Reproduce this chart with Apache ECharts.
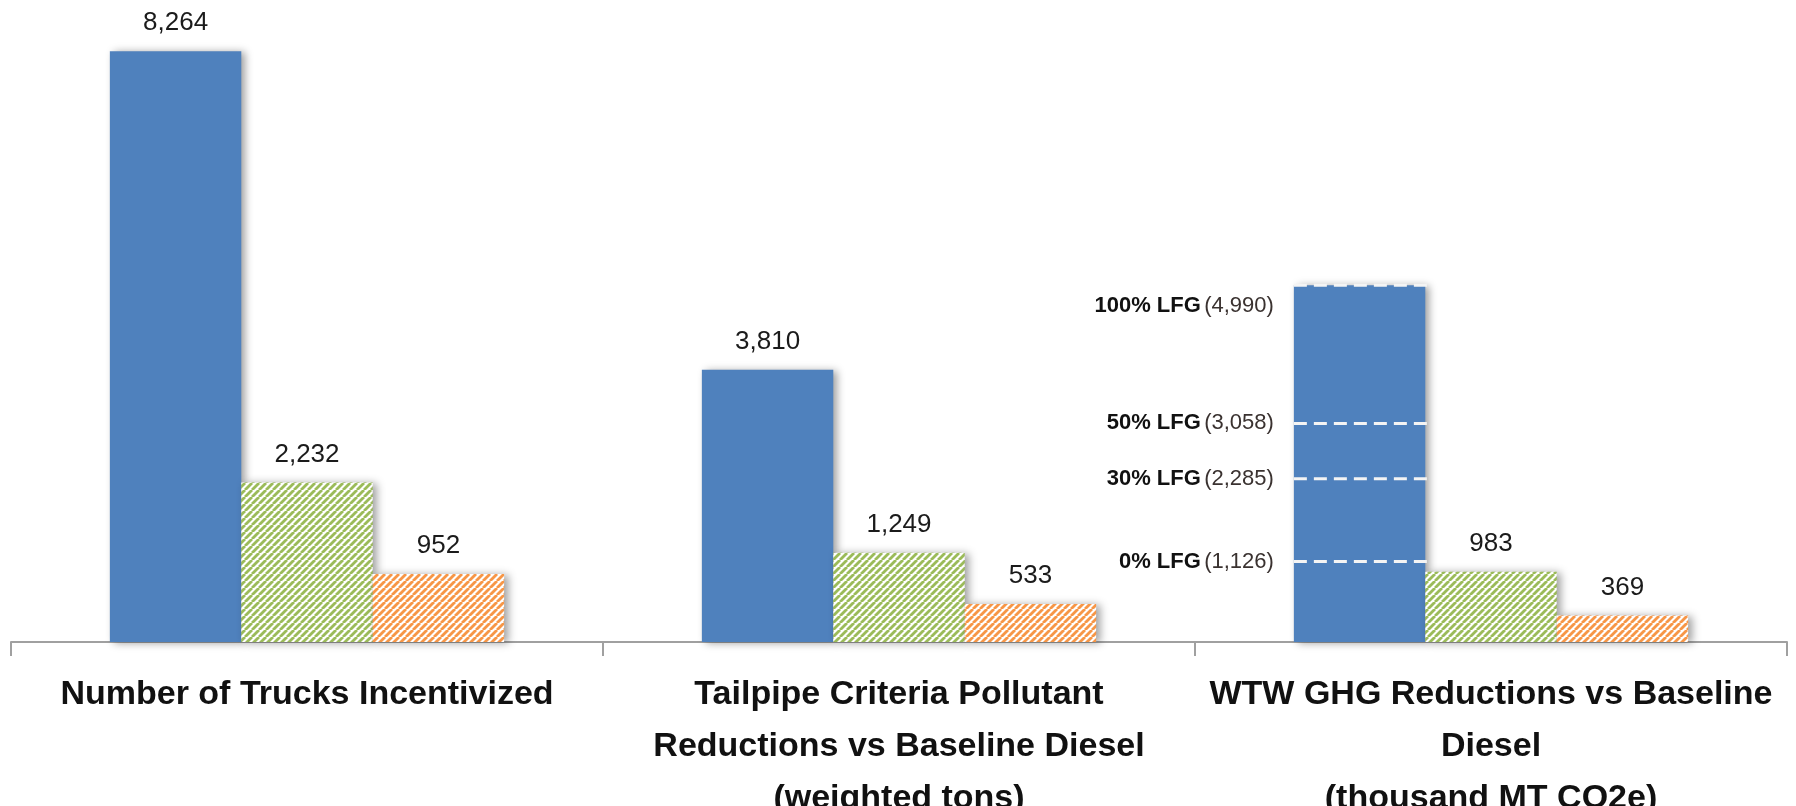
<!DOCTYPE html>
<html>
<head>
<meta charset="utf-8">
<script src="https://cdn.jsdelivr.net/npm/echarts@6/dist/echarts.min.js"></script>
<style>
  html, body { margin: 0; padding: 0; background: #ffffff; }
  #chart { width: 1796px; height: 806px; }
</style>
</head>
<body>
<div id="chart"></div>
<script>
// Program outcome categories (line breaks are part of the axis labels)
const categories = [
  'Number of Trucks Incentivized',
  'Tailpipe Criteria Pollutant\nReductions vs Baseline Diesel\n(weighted tons)',
  'WTW GHG Reductions vs Baseline\nDiesel\n(thousand MT CO2e)'
];

// Three scenario series per category
const blueValues = [8264, 3810, 4990];
const greenValues = [2232, 1249, 983];
const orangeValues = [952, 533, 369];

// Landfill-gas share levels marked inside the GHG bar
const lfgLevels = ['100% LFG', '50% LFG', '30% LFG', '0% LFG'];
const lfgValues = [4990, 3058, 2285, 1126];
const lfgCategory = 2;

const BAR_FRAC = 0.222;
const FONT = '"Liberation Sans", Arial, sans-serif';
const fmt = v => v.toLocaleString('en-US');

// Diagonal stripe tile for the hatched bars
function hatch(color) {
  const s = 7;
  const c = document.createElement('canvas');
  c.width = s; c.height = s;
  const g = c.getContext('2d');
  g.fillStyle = '#ffffff';
  g.fillRect(0, 0, s, s);
  g.strokeStyle = color;
  g.lineWidth = 2.8;
  for (const o of [-s, 0, s]) {
    g.beginPath();
    g.moveTo(o, s);
    g.lineTo(o + s, 0);
    g.stroke();
  }
  return { image: c, repeat: 'repeat' };
}

const shadow = {
  shadowColor: 'rgba(0,0,0,0.38)',
  shadowBlur: 8,
  shadowOffsetX: 4,
  shadowOffsetY: 1
};

const valueLabel = {
  show: true,
  position: 'top',
  distance: 15,
  fontFamily: FONT,
  fontSize: 26,
  color: '#1b1b1b',
  formatter: p => fmt(p.value)
};

const chart = echarts.init(document.getElementById('chart'), null, { renderer: 'canvas' });

chart.setOption({
  animation: false,
  backgroundColor: '#ffffff',
  grid: { left: 11, right: 9, top: 13, bottom: 164, containLabel: false, outerBoundsMode: 'none' },
  xAxis: {
    type: 'category',
    data: categories,
    axisLine: { lineStyle: { color: '#a0a0a0', width: 2 } },
    axisTick: { show: true, length: 14, lineStyle: { color: '#a0a0a0', width: 2 } },
    axisLabel: {
      interval: 0,
      margin: 27,
      fontFamily: FONT,
      fontSize: 34,
      fontWeight: 'bold',
      lineHeight: 52,
      color: '#111111'
    }
  },
  yAxis: {
    type: 'value',
    min: 0,
    max: 8800,
    show: false,
    splitLine: { show: false }
  },
  series: [
    {
      type: 'bar',
      barWidth: (BAR_FRAC * 100) + '%',
      barGap: '0%',
      data: blueValues.map((v, i) => i === lfgCategory ? { value: v, label: { show: false } } : v),
      itemStyle: Object.assign({ color: '#4f81bd' }, shadow),
      label: valueLabel
    },
    {
      type: 'bar',
      barWidth: (BAR_FRAC * 100) + '%',
      barGap: '0%',
      data: greenValues,
      itemStyle: Object.assign({ color: hatch('#9bbb59') }, shadow),
      label: valueLabel
    },
    {
      type: 'bar',
      barWidth: (BAR_FRAC * 100) + '%',
      barGap: '0%',
      data: orangeValues,
      itemStyle: Object.assign({ color: hatch('#f79646') }, shadow),
      label: valueLabel
    },
    {
      // dashed level markers across the first bar of the GHG group, with side labels
      type: 'custom',
      z: 10,
      clip: false,
      data: lfgValues.map((v, i) => [lfgCategory, v, i]),
      renderItem: function (params, api) {
        const p = api.coord([api.value(0), api.value(1)]);
        const band = api.size([1, 0])[0];
        const bw = band * BAR_FRAC;
        const x0 = p[0] - 1.5 * bw;
        const x1 = p[0] - 0.5 * bw + 4;
        const idx = api.value(2);
        const labelY = idx === 0 ? p[1] + 21 : p[1];
        return {
          type: 'group',
          children: [
            {
              type: 'line',
              shape: { x1: x0, y1: p[1], x2: x1, y2: p[1] },
              style: { stroke: '#f4f4f4', lineWidth: 3, lineDash: [13, 7] }
            },
            {
              type: 'text',
              style: {
                text: '{b|' + lfgLevels[idx] + '} {n|(' + fmt(lfgValues[idx]) + ')}',
                x: x0 - 20,
                y: labelY,
                align: 'right',
                verticalAlign: 'middle',
                rich: {
                  b: { fontFamily: FONT, fontSize: 22, fontWeight: 'bold', fill: '#111111' },
                  n: { fontFamily: FONT, fontSize: 22, fill: '#3a3230' }
                }
              }
            }
          ]
        };
      }
    }
  ]
});
</script>
</body>
</html>
